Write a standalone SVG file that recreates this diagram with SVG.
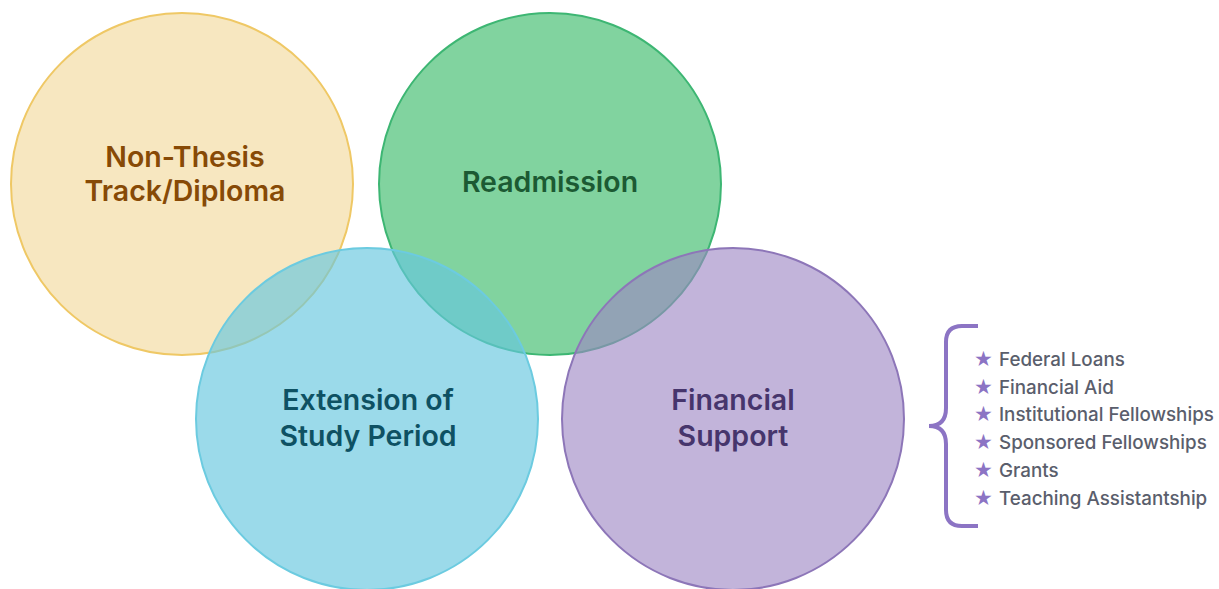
<svg xmlns="http://www.w3.org/2000/svg" width="1219" height="589" viewBox="0 0 1219 589">
  <style>
    .lbl { font-family: Inter, "Noto Sans", "Liberation Sans", sans-serif; font-size: 28.5px; font-weight: 600; text-anchor: middle; }
    .item { font-family: Inter, "Noto Sans", "Liberation Sans", sans-serif; font-size: 18.8px; font-weight: 500; fill: #5a5e6c; }
    .star { fill: #8c74c4; font-family: "DejaVu Sans", sans-serif; font-size: 21px; }
    .ring { stroke-width: 2; }
  </style>
  <rect width="1219" height="589" fill="#ffffff"/>

  <g id="node-nonthesis">
    <circle class="ring" cx="182" cy="184" r="171" fill="#f0d48c" fill-opacity="0.55" stroke="#efc865"/>
    <text class="lbl" x="185" y="167" fill="#874a06">Non-Thesis</text>
    <text class="lbl" x="185" y="201" fill="#874a06">Track/Diploma</text>
  </g>

  <g id="node-readmission">
    <circle class="ring" cx="550" cy="184" r="171" fill="#3dbb6c" fill-opacity="0.65" stroke="#3db673"/>
    <text class="lbl" x="550" y="192" fill="#1c5a33">Readmission</text>
  </g>

  <g id="node-extension">
    <circle class="ring" cx="367" cy="419" r="171" fill="#65c6df" fill-opacity="0.65" stroke="#6ccbe0"/>
    <text class="lbl" x="368" y="410" fill="#0e5163">Extension of</text>
    <text class="lbl" x="368" y="446" fill="#0e5163">Study Period</text>
  </g>

  <g id="node-financial">
    <circle class="ring" cx="733" cy="419" r="171" fill="#9c86c4" fill-opacity="0.62" stroke="#8d76b8"/>
    <text class="lbl" x="733" y="410" fill="#46356c">Financial</text>
    <text class="lbl" x="733" y="446" fill="#46356c">Support</text>
  </g>

  <g id="connectors">
    <path d="M978 326 H962 Q946 326 946 342 V408 Q946 426 929 426 Q946 426 946 444 V510 Q946 526 962 526 H978" fill="none" stroke="#8c74c4" stroke-width="4" stroke-linecap="butt"/>
  </g>

  <g id="node-list">
    <text class="star" x="974" y="366">★</text>
    <text class="item" x="999" y="366">Federal Loans</text>
    <text class="star" x="974" y="394">★</text>
    <text class="item" x="999" y="394">Financial Aid</text>
    <text class="star" x="974" y="421">★</text>
    <text class="item" x="999" y="421">Institutional Fellowships</text>
    <text class="star" x="974" y="449">★</text>
    <text class="item" x="999" y="449">Sponsored Fellowships</text>
    <text class="star" x="974" y="477">★</text>
    <text class="item" x="999" y="477">Grants</text>
    <text class="star" x="974" y="505">★</text>
    <text class="item" x="999" y="505">Teaching Assistantship</text>
  </g>
</svg>
